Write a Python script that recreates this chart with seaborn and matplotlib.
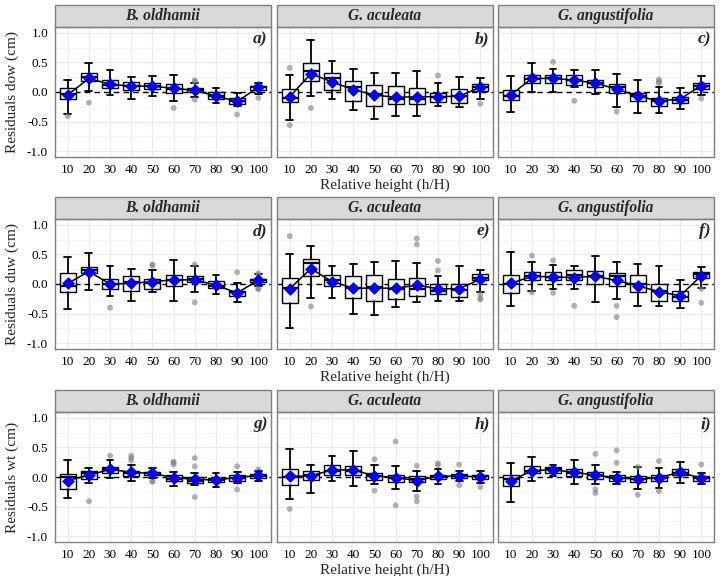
import numpy as np
import pandas as pd
import seaborn as sns
import matplotlib.pyplot as plt
from matplotlib.patches import Rectangle

# x categories (relative height, %)
heights = ["10", "20", "30", "40", "50", "60", "70", "80", "90", "100"]
species = ["B. oldhamii", "G. aculeata", "G. angustifolia"]
row_labels = ["Residuals dow (cm)", "Residuals duw (cm)", "Residuals wt (cm)"]
panel_tags = ["a)", "b)", "c)", "d)", "e)", "f)", "g)", "h)", "i)"]

# ---- dow ----
a_lo = [-0.37, 0.01, -0.05, -0.11, -0.07, -0.15, -0.09, -0.18, -0.23, -0.03]
a_q1 = [-0.12, 0.19, 0.06, 0.04, 0.05, -0.02, 0.00, -0.12, -0.20, 0.03]
a_med = [-0.03, 0.25, 0.12, 0.10, 0.10, 0.05, 0.03, -0.06, -0.15, 0.08]
a_q3 = [0.06, 0.32, 0.21, 0.17, 0.15, 0.13, 0.06, 0.00, -0.10, 0.10]
a_hi = [0.20, 0.49, 0.37, 0.25, 0.27, 0.29, 0.15, 0.06, -0.02, 0.16]
a_mean = [-0.05, 0.23, 0.13, 0.10, 0.10, 0.06, 0.03, -0.07, -0.16, 0.08]
a_out_h = ["10", "20", "60", "70", "70", "70", "90", "100"]
a_out_v = [-0.41, -0.18, -0.27, 0.20, 0.17, -0.13, -0.38, -0.10]

b_lo = [-0.48, -0.06, -0.11, -0.30, -0.46, -0.41, -0.40, -0.24, -0.26, -0.11]
b_q1 = [-0.17, 0.19, 0.04, -0.15, -0.23, -0.20, -0.20, -0.17, -0.18, 0.01]
b_med = [-0.10, 0.36, 0.23, 0.08, -0.03, -0.11, -0.11, -0.09, -0.06, 0.08]
b_q3 = [0.05, 0.49, 0.32, 0.19, 0.12, 0.10, 0.06, -0.01, 0.05, 0.14]
b_hi = [0.28, 0.88, 0.52, 0.39, 0.32, 0.32, 0.36, 0.15, 0.25, 0.23]
b_mean = [-0.08, 0.31, 0.17, 0.04, -0.05, -0.09, -0.08, -0.08, -0.07, 0.08]
b_out_h = ["10", "10", "20", "80", "100"]
b_out_v = [0.41, -0.56, -0.27, 0.28, -0.20]

c_lo = [-0.34, 0.00, 0.00, 0.08, -0.03, -0.25, -0.36, -0.36, -0.28, -0.05]
c_q1 = [-0.14, 0.15, 0.16, 0.12, 0.08, -0.02, -0.16, -0.23, -0.19, 0.05]
c_med = [-0.06, 0.22, 0.23, 0.21, 0.15, 0.08, -0.07, -0.16, -0.13, 0.11]
c_q3 = [0.03, 0.29, 0.29, 0.28, 0.21, 0.14, -0.01, -0.10, -0.09, 0.15]
c_hi = [0.27, 0.49, 0.39, 0.38, 0.38, 0.30, 0.20, 0.08, 0.06, 0.27]
c_mean = [-0.05, 0.23, 0.23, 0.20, 0.15, 0.05, -0.07, -0.15, -0.12, 0.11]
c_out_h = ["30", "40", "60", "80", "80", "80", "100"]
c_out_v = [0.51, -0.15, -0.33, 0.21, 0.18, 0.15, -0.11]

# ---- duw ----
d_lo = [-0.43, -0.10, -0.21, -0.29, -0.14, -0.29, -0.14, -0.17, -0.31, -0.04]
d_q1 = [-0.14, 0.19, -0.08, -0.12, -0.08, -0.03, 0.03, -0.07, -0.21, 0.03]
d_med = [-0.03, 0.24, 0.00, 0.04, 0.02, 0.07, 0.08, -0.03, -0.14, 0.06]
d_q3 = [0.19, 0.29, 0.08, 0.14, 0.08, 0.16, 0.14, 0.05, -0.11, 0.09]
d_hi = [0.45, 0.52, 0.30, 0.26, 0.24, 0.40, 0.31, 0.15, 0.01, 0.17]
d_mean = [0.01, 0.21, 0.00, 0.01, 0.04, 0.07, 0.07, -0.02, -0.15, 0.06]
d_out_h = ["30", "50", "50", "70", "70", "90", "100", "100", "100", "100"]
d_out_v = [-0.40, 0.33, 0.31, 0.33, -0.31, 0.20, 0.18, 0.15, -0.09, -0.07]

e_lo = [-0.74, -0.24, -0.24, -0.51, -0.52, -0.39, -0.30, -0.29, -0.29, -0.13]
e_q1 = [-0.32, 0.14, -0.04, -0.24, -0.28, -0.25, -0.20, -0.17, -0.22, 0.06]
e_med = [-0.06, 0.35, 0.07, -0.07, -0.05, -0.08, -0.08, -0.12, -0.10, 0.11]
e_q3 = [0.10, 0.42, 0.16, 0.14, 0.15, 0.08, 0.10, 0.00, 0.00, 0.17]
e_hi = [0.50, 0.65, 0.30, 0.34, 0.37, 0.39, 0.35, 0.14, 0.31, 0.24]
e_mean = [-0.08, 0.26, 0.04, -0.07, -0.07, -0.07, -0.02, -0.08, -0.08, 0.08]
e_out_h = ["10", "20", "70", "70", "80", "80", "100", "100", "100"]
e_out_v = [0.81, -0.38, 0.67, 0.77, 0.39, 0.23, -0.17, -0.24, -0.26]

f_lo = [-0.38, -0.11, -0.08, -0.08, -0.31, -0.25, -0.38, -0.37, -0.40, -0.07]
f_q1 = [-0.16, 0.07, 0.06, 0.07, 0.00, -0.03, -0.14, -0.29, -0.29, 0.10]
f_med = [0.00, 0.13, 0.12, 0.15, 0.13, 0.13, 0.00, -0.11, -0.22, 0.17]
f_q3 = [0.16, 0.20, 0.20, 0.23, 0.22, 0.19, 0.15, 0.00, -0.11, 0.21]
f_hi = [0.55, 0.38, 0.33, 0.31, 0.48, 0.37, 0.34, 0.31, 0.06, 0.29]
f_mean = [0.01, 0.13, 0.12, 0.11, 0.13, 0.06, -0.03, -0.13, -0.20, 0.14]
f_out_h = ["20", "20", "30", "30", "40", "60", "60", "100", "100"]
f_out_v = [0.48, -0.14, 0.40, -0.15, -0.37, -0.37, -0.56, -0.08, -0.32]

# ---- wt ----
g_lo = [-0.36, -0.10, -0.01, -0.06, -0.02, -0.15, -0.14, -0.17, -0.10, -0.06]
g_q1 = [-0.21, -0.03, 0.07, 0.01, 0.03, -0.07, -0.10, -0.08, -0.06, -0.01]
g_med = [0.00, 0.06, 0.13, 0.07, 0.06, -0.03, -0.06, -0.05, -0.01, 0.02]
g_q3 = [0.05, 0.10, 0.17, 0.10, 0.08, 0.03, 0.00, -0.01, 0.03, 0.05]
g_hi = [0.28, 0.15, 0.28, 0.21, 0.16, 0.08, 0.07, 0.07, 0.09, 0.11]
g_mean = [-0.06, 0.03, 0.13, 0.08, 0.06, -0.01, -0.04, -0.05, -0.01, 0.03]
g_out_h = ["20", "30", "40", "40", "40", "50", "50", "60", "60", "60",
           "70", "70", "70", "90", "90", "100"]
g_out_v = [-0.41, 0.36, 0.36, 0.32, 0.28, -0.07, -0.08, 0.26, 0.24, 0.21,
           0.32, 0.18, -0.34, 0.18, -0.21, 0.13]

h_lo = [-0.37, -0.27, -0.07, -0.16, -0.11, -0.21, -0.24, -0.12, -0.06, -0.10]
h_q1 = [-0.13, -0.05, 0.03, 0.03, -0.05, -0.08, -0.09, -0.04, -0.02, -0.03]
h_med = [0.00, 0.04, 0.10, 0.11, 0.02, -0.02, -0.03, 0.00, 0.02, 0.01]
h_q3 = [0.14, 0.10, 0.21, 0.19, 0.07, 0.04, 0.02, 0.04, 0.05, 0.04]
h_hi = [0.47, 0.21, 0.36, 0.44, 0.21, 0.19, 0.10, 0.13, 0.10, 0.10]
h_mean = [0.01, 0.02, 0.12, 0.12, 0.02, -0.01, -0.06, 0.01, 0.02, 0.00]
h_out_h = ["10", "50", "50", "60", "60", "70", "70", "70", "80", "80",
           "90", "90", "100"]
h_out_v = [-0.54, 0.30, -0.23, 0.60, -0.48, 0.19, -0.33, -0.41, 0.23, 0.20,
           0.21, -0.14, -0.17]

i_lo = [-0.42, -0.07, 0.01, -0.11, -0.11, -0.12, -0.20, -0.19, -0.10, -0.12]
i_q1 = [-0.15, 0.06, 0.07, 0.01, -0.03, -0.07, -0.08, -0.07, 0.03, -0.06]
i_med = [-0.04, 0.11, 0.13, 0.07, 0.03, -0.02, -0.04, -0.01, 0.07, -0.02]
i_q3 = [0.04, 0.18, 0.17, 0.14, 0.08, 0.03, 0.02, 0.04, 0.14, 0.02]
i_hi = [0.24, 0.34, 0.21, 0.29, 0.21, 0.08, 0.17, 0.15, 0.25, 0.07]
i_mean = [-0.07, 0.11, 0.12, 0.08, 0.03, -0.01, -0.04, -0.01, 0.08, -0.02]
i_out_h = ["50", "50", "50", "60", "60", "70", "70", "80", "80", "100"]
i_out_v = [0.39, -0.21, -0.27, 0.45, 0.24, 0.17, -0.30, 0.27, -0.24, 0.21]

panels = [
    (a_lo, a_q1, a_med, a_q3, a_hi, a_mean, a_out_h, a_out_v),
    (b_lo, b_q1, b_med, b_q3, b_hi, b_mean, b_out_h, b_out_v),
    (c_lo, c_q1, c_med, c_q3, c_hi, c_mean, c_out_h, c_out_v),
    (d_lo, d_q1, d_med, d_q3, d_hi, d_mean, d_out_h, d_out_v),
    (e_lo, e_q1, e_med, e_q3, e_hi, e_mean, e_out_h, e_out_v),
    (f_lo, f_q1, f_med, f_q3, f_hi, f_mean, f_out_h, f_out_v),
    (g_lo, g_q1, g_med, g_q3, g_hi, g_mean, g_out_h, g_out_v),
    (h_lo, h_q1, h_med, h_q3, h_hi, h_mean, h_out_h, h_out_v),
    (i_lo, i_q1, i_med, i_q3, i_hi, i_mean, i_out_h, i_out_v),
]

sns.set_theme(style="whitegrid")
plt.rcParams["font.family"] = ["Liberation Serif", "DejaVu Serif"]

W, H = 720, 576
fig = plt.figure(figsize=(7.2, 5.76), dpi=100)

col_left = [55, 277, 498]
panel_w = 216
plot_top = [27, 219, 412]
plot_h = 130
strip_h = 22
pos = np.arange(len(heights))

for k, (lo, q1, med, q3, hi, mean, out_h, out_v) in enumerate(panels):
    r, c = divmod(k, 3)
    ax = fig.add_axes([col_left[c] / W, 1 - (plot_top[r] + plot_h) / H,
                       panel_w / W, plot_h / H])
    ax.set_facecolor("white")

    # grid like theme_bw
    ax.set_xlim(-0.6, 9.6)
    ax.set_ylim(-1.1, 1.1)
    ax.set_yticks([-1.0, -0.5, 0.0, 0.5, 1.0])
    ax.set_yticks([-0.75, -0.25, 0.25, 0.75], minor=True)
    ax.set_xticks(pos)
    ax.grid(which="major", color="#EBEBEB", linewidth=0.9)
    ax.grid(which="minor", axis="y", color="#F4F4F4", linewidth=0.6)
    ax.set_axisbelow(True)

    ax.axhline(0, color="black", linestyle=(0, (4, 3)), linewidth=1.0, zorder=1.5)

    stats = []
    for j in range(len(heights)):
        stats.append(dict(whislo=lo[j], q1=q1[j], med=med[j], q3=q3[j],
                          whishi=hi[j], fliers=[]))
    ax.bxp(stats, positions=pos, widths=0.75, capwidths=0.32,
           patch_artist=True, showfliers=False, manage_ticks=False,
           boxprops=dict(facecolor="#F4F4F4", edgecolor="black", linewidth=1.0),
           medianprops=dict(color="black", linewidth=1.6),
           whiskerprops=dict(color="black", linewidth=1.3),
           capprops=dict(color="black", linewidth=1.3), zorder=2)

    out_df = pd.DataFrame({"x": [heights.index(h) for h in out_h], "y": out_v})
    sns.scatterplot(data=out_df, x="x", y="y", ax=ax, color="grey", alpha=0.6,
                    s=18, edgecolor="none", zorder=3)

    mean_df = pd.DataFrame({"x": pos, "y": mean})
    sns.lineplot(data=mean_df, x="x", y="y", ax=ax, color="black",
                 linewidth=1.1, zorder=4)
    sns.scatterplot(data=mean_df, x="x", y="y", ax=ax, marker="D",
                    color="#0000FF", s=36, edgecolor="#0000FF", zorder=5)

    ax.set_xticklabels(heights, fontsize=9.5)
    ax.tick_params(axis="both", which="major", length=3, color="#333333",
                   pad=2, labelcolor="black")
    ax.tick_params(axis="y", which="minor", length=0)
    if c == 0:
        ax.set_yticklabels(["-1.0", "-0.5", "0.0", "0.5", "1.0"], fontsize=9.5)
        ax.set_ylabel(row_labels[r], fontsize=11, labelpad=6)
    else:
        ax.set_yticklabels([])
        ax.set_ylabel("")
    if c == 1:
        ax.set_xlabel("Relative height (h/H)", fontsize=11, labelpad=2)
    else:
        ax.set_xlabel("")

    for sp in ax.spines.values():
        sp.set_color("#7F7F7F")
        sp.set_linewidth(1.0)

    # strip on top
    sh = strip_h / plot_h
    ax.add_patch(Rectangle((0, 1), 1, sh, transform=ax.transAxes,
                           facecolor="#D9D9D9", edgecolor="#7F7F7F",
                           linewidth=1.0, clip_on=False))
    ax.text(0.5, 1 + sh / 2, species[c], transform=ax.transAxes,
            ha="center", va="center", fontsize=11.2, fontweight="bold",
            fontstyle="italic")

    ax.text(0.985, 0.97, panel_tags[k], transform=ax.transAxes,
            ha="right", va="top", fontsize=12.5, fontweight="bold",
            fontstyle="italic", zorder=6)

fig.savefig("out.png", dpi=100)
